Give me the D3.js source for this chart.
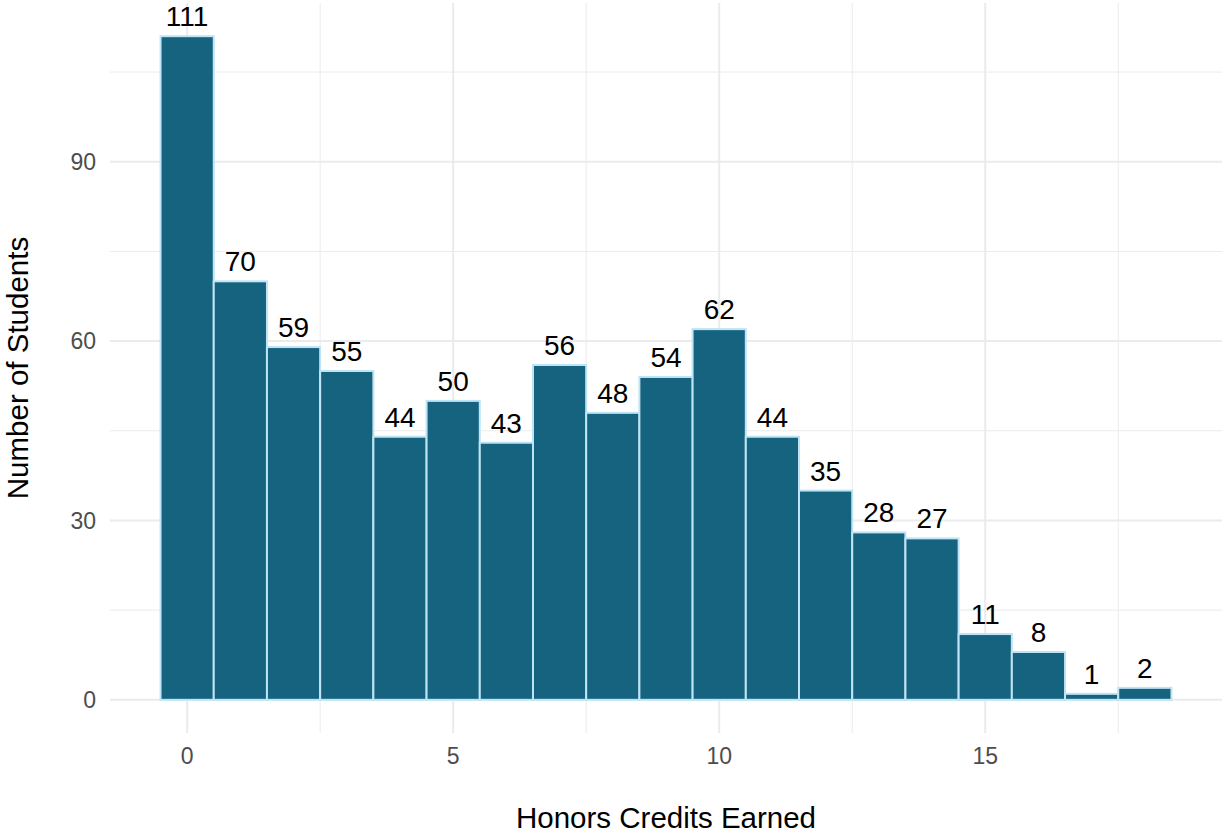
<!DOCTYPE html>
<html><head><meta charset="utf-8">
<script src="https://cdn.jsdelivr.net/npm/d3@7"></script>
<style>body{margin:0;background:#fff}svg{display:block}text{font-family:"Liberation Sans",Arial,sans-serif}</style>
</head><body><div id="chart"></div>
<script>
const credits = [0,1,2,3,4,5,6,7,8,9,10,11,12,13,14,15,16,17,18];
const counts = [111,70,59,55,44,50,43,56,48,54,62,44,35,28,27,11,8,1,2];
const xTicks = [0,5,10,15];
const yTicks = [0,30,60,90];
const xMinor = [2.5,7.5,12.5,17.5];
const yMinor = [15,45,75,105];

const W=1224,H=833;
const panel={l:110,r:1222,t:3,b:733};
const svg=d3.select("#chart").append("svg").attr("width",W).attr("height",H);
const xmin=-0.5,xmax=18.5,ymax=d3.max(counts);
const xPad=(xmax-xmin)*0.05, yPad=ymax*0.05;
const x=d3.scaleLinear().domain([xmin-xPad,xmax+xPad]).range([panel.l,panel.r]);
const y=d3.scaleLinear().domain([-yPad,ymax+yPad]).range([panel.b,panel.t]);

const g=svg.append("g");
g.selectAll(".ymin").data(yMinor).join("line").attr("x1",panel.l).attr("x2",panel.r)
 .attr("y1",d=>y(d)).attr("y2",d=>y(d)).attr("stroke","#EBEBEB").attr("stroke-width",1);
g.selectAll(".xmin").data(xMinor).join("line").attr("y1",panel.t).attr("y2",panel.b)
 .attr("x1",d=>x(d)).attr("x2",d=>x(d)).attr("stroke","#EBEBEB").attr("stroke-width",1);
g.selectAll(".ymaj").data(yTicks).join("line").attr("x1",panel.l).attr("x2",panel.r)
 .attr("y1",d=>y(d)).attr("y2",d=>y(d)).attr("stroke","#EBEBEB").attr("stroke-width",2);
g.selectAll(".xmaj").data(xTicks).join("line").attr("y1",panel.t).attr("y2",panel.b)
 .attr("x1",d=>x(d)).attr("x2",d=>x(d)).attr("stroke","#EBEBEB").attr("stroke-width",2);

const data=credits.map((c,i)=>({c,n:counts[i]}));
svg.selectAll("rect.bar").data(data).join("rect").attr("class","bar")
 .attr("x",d=>x(d.c-0.5)).attr("width",d=>x(d.c+0.5)-x(d.c-0.5))
 .attr("y",d=>y(d.n)).attr("height",d=>y(0)-y(d.n))
 .attr("fill","#15637F").attr("stroke","#BFE4F5").attr("stroke-width",2);

svg.selectAll("text.lab").data(data).join("text").attr("class","lab")
 .attr("x",d=>x(d.c)).attr("y",d=>y(d.n)-10).attr("text-anchor","middle")
 .attr("font-size",28).attr("fill","#000").text(d=>d.n);

svg.selectAll("text.xt").data(xTicks).join("text").attr("x",d=>x(d)).attr("y",764)
 .attr("text-anchor","middle").attr("font-size",23).attr("fill","#4D4D4D").text(d=>d);
svg.selectAll("text.yt").data(yTicks).join("text").attr("x",96).attr("y",d=>y(d)+8.3)
 .attr("text-anchor","end").attr("font-size",23).attr("fill","#4D4D4D").text(d=>d);

svg.append("text").attr("x",(panel.l+panel.r)/2).attr("y",828).attr("text-anchor","middle")
 .attr("font-size",29.5).attr("fill","#000").text("Honors Credits Earned");
svg.append("text").attr("transform",`translate(27.5,${(panel.t+panel.b)/2}) rotate(-90)`)
 .attr("text-anchor","middle").attr("font-size",29.5).attr("fill","#000").text("Number of Students");
</script></body></html>
